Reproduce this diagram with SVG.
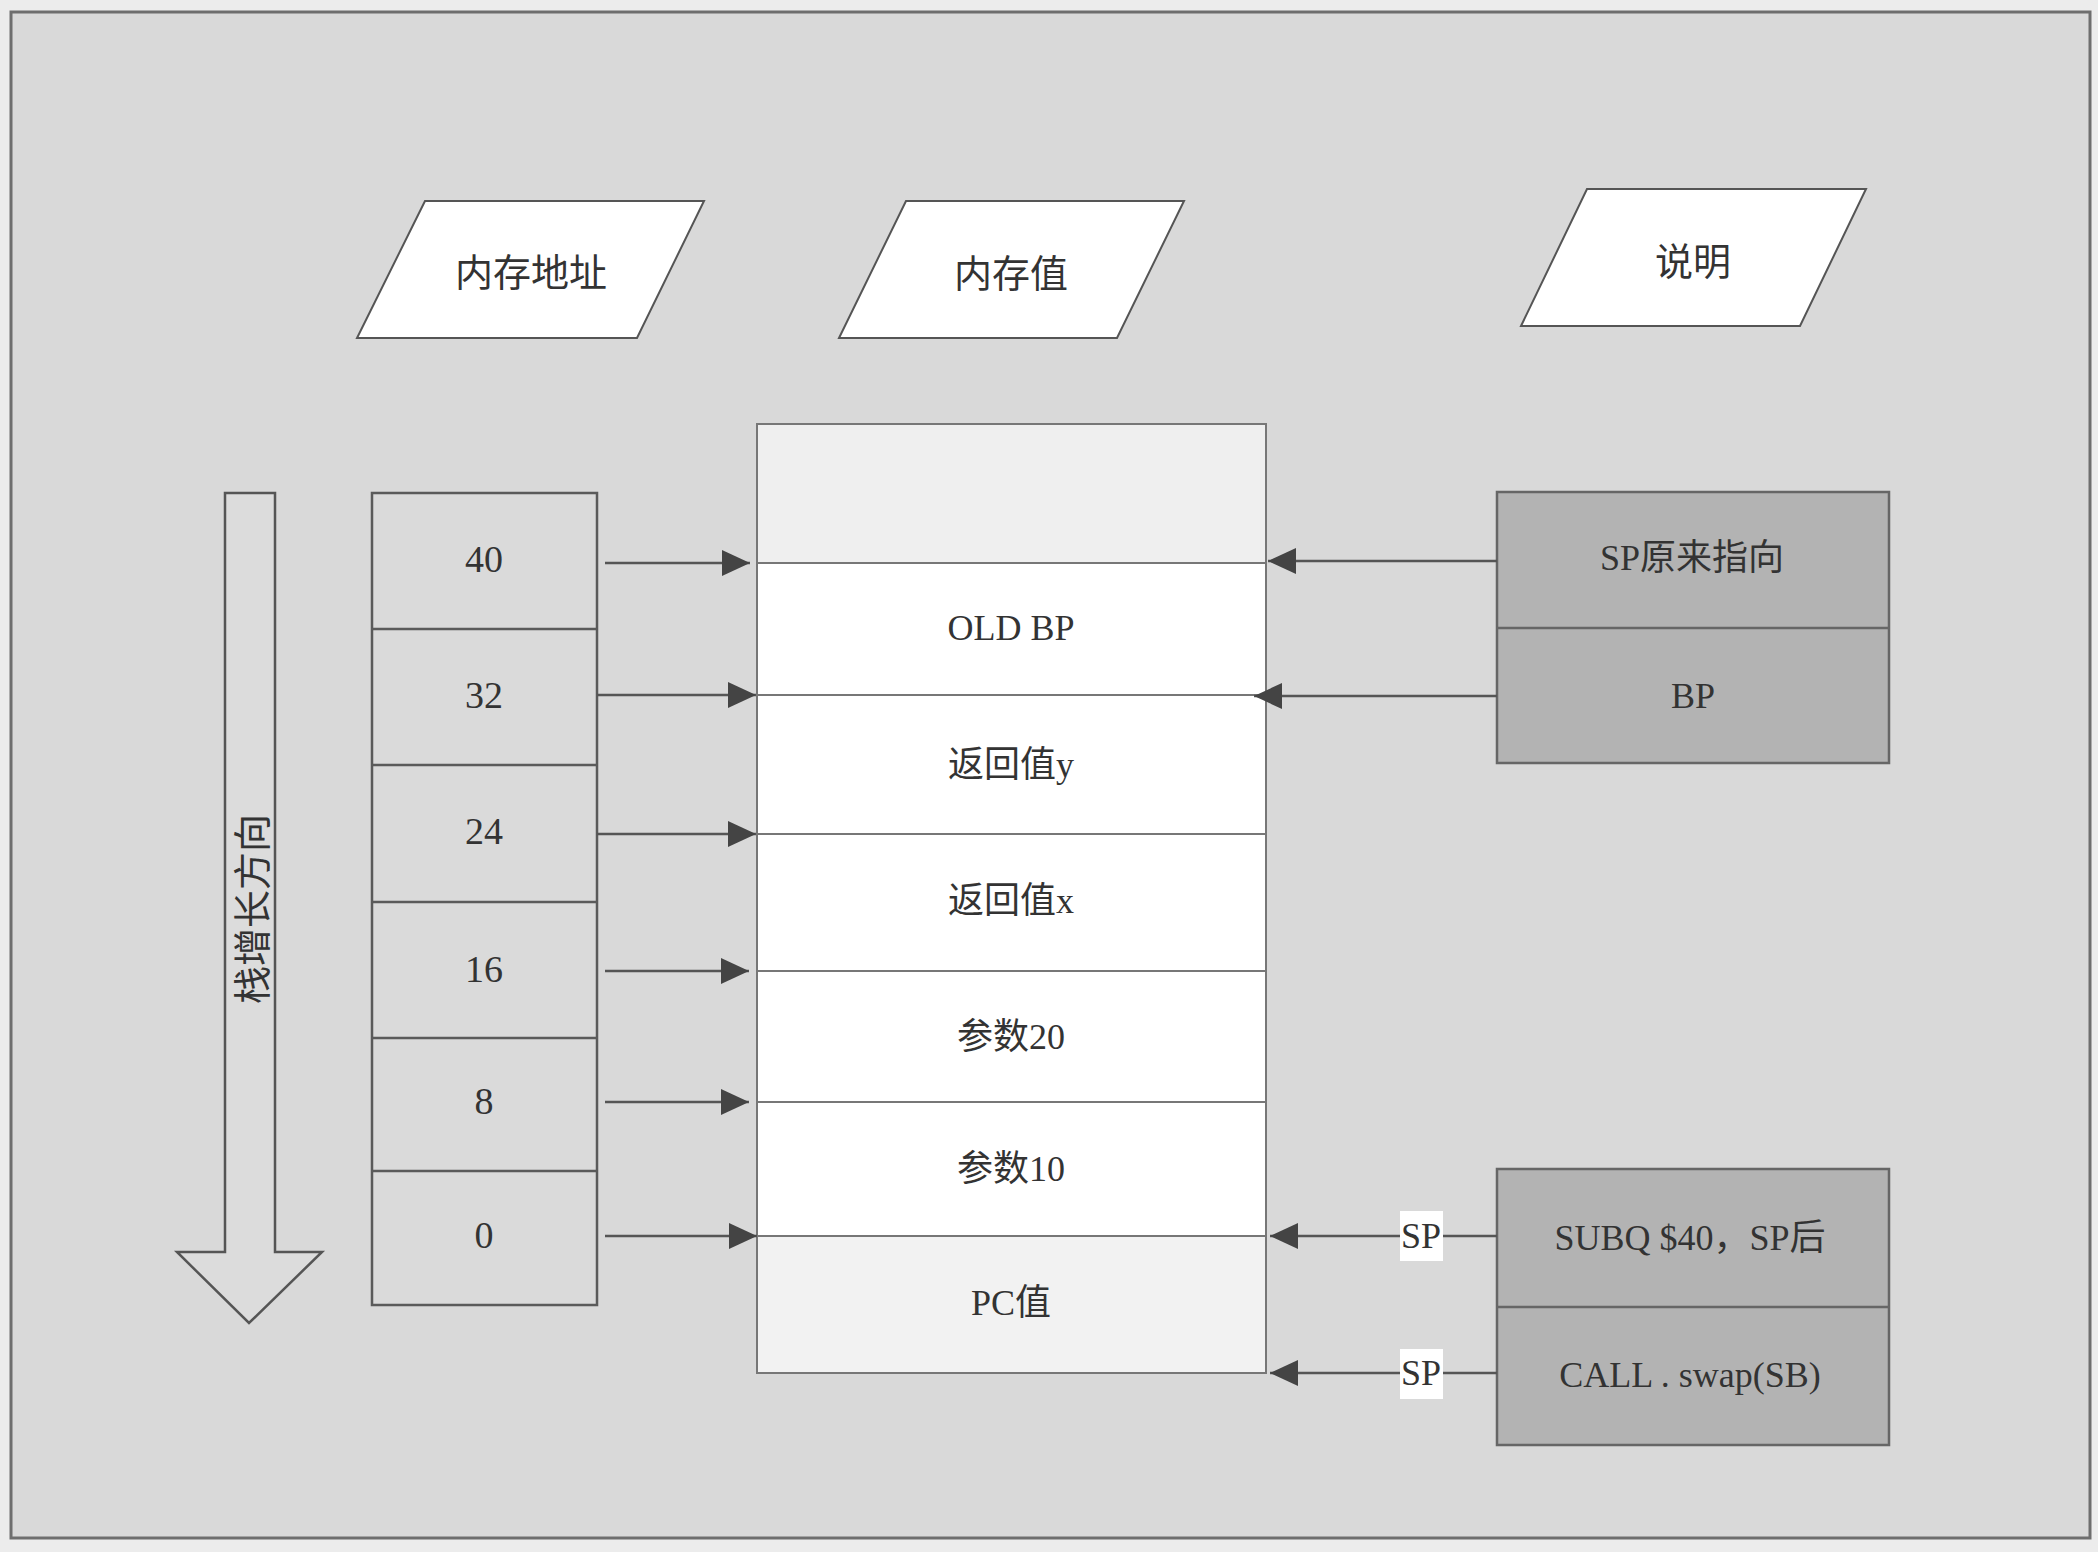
<svg xmlns="http://www.w3.org/2000/svg" width="2098" height="1552" viewBox="0 0 2098 1552">
<style>
.t{font-family:"Liberation Serif","Noto Sans CJK SC",serif;fill:#333;text-anchor:middle;dominant-baseline:central}
.h{font-family:"Noto Sans CJK SC","Liberation Sans",sans-serif;font-size:38px;fill:#333;text-anchor:middle;dominant-baseline:central}
.c{stroke:#555;stroke-width:2.5;fill:none}
.cell{stroke:#5a5a5a;stroke-width:2.5}
.mem{stroke:#777;stroke-width:2}
.dark{fill:#b3b3b3;stroke:#666;stroke-width:2.5}
</style>
<defs>
<marker id="ah" markerUnits="userSpaceOnUse" markerWidth="28" markerHeight="26" refX="28" refY="13" orient="auto">
<path d="M0,0 L28,13 L0,26 z" fill="#444"/>
</marker>
</defs>
<rect x="0" y="0" width="2098" height="1552" fill="#ececec"/>
<rect x="11" y="12" width="2079" height="1526" fill="#d9d9d9" stroke="#6e6e6e" stroke-width="3"/>

<g id="hdr-addr">
<polygon points="425,201 704,201 637,338 357,338" fill="#fff" stroke="#555" stroke-width="2"/>
<text class="h" x="531" y="269">内存地址</text>
</g>
<g id="hdr-val">
<polygon points="906,201 1184,201 1117,338 839,338" fill="#fff" stroke="#555" stroke-width="2"/>
<text class="h" x="1011" y="270">内存值</text>
</g>
<g id="hdr-desc">
<polygon points="1587,189 1866,189 1800,326 1521,326" fill="#fff" stroke="#555" stroke-width="2"/>
<text class="h" x="1693" y="258">说明</text>
</g>

<g id="dir-arrow">
<polygon points="225,493 275,493 275,1252 322,1252 249,1323 177,1252 225,1252" fill="#dcdcdc" stroke="#555" stroke-width="2.5"/>
<text class="h" x="249" y="909" transform="rotate(-90 249 909)">栈增长方向</text>
</g>

<g id="addr-stack">
<rect x="372" y="493" width="225" height="812" fill="#dadada" class="cell"/>
<line class="cell" x1="372" y1="629" x2="597" y2="629"/>
<line class="cell" x1="372" y1="765" x2="597" y2="765"/>
<line class="cell" x1="372" y1="902" x2="597" y2="902"/>
<line class="cell" x1="372" y1="1038" x2="597" y2="1038"/>
<line class="cell" x1="372" y1="1171" x2="597" y2="1171"/>
<text class="t" font-size="38" x="484" y="559">40</text>
<text class="t" font-size="38" x="484" y="695">32</text>
<text class="t" font-size="38" x="484" y="831">24</text>
<text class="t" font-size="38" x="484" y="969">16</text>
<text class="t" font-size="38" x="484" y="1101">8</text>
<text class="t" font-size="38" x="484" y="1235">0</text>
</g>

<g id="mem-stack">
<rect x="757" y="424" width="509" height="139" fill="#efefef"/>
<rect x="757" y="563" width="509" height="673" fill="#ffffff"/>
<rect x="757" y="1236" width="509" height="137" fill="#f2f2f2"/>
<rect x="757" y="424" width="509" height="949" fill="none" class="mem"/>
<line class="mem" x1="757" y1="563" x2="1266" y2="563"/>
<line class="mem" x1="757" y1="695" x2="1266" y2="695"/>
<line class="mem" x1="757" y1="834" x2="1266" y2="834"/>
<line class="mem" x1="757" y1="971" x2="1266" y2="971"/>
<line class="mem" x1="757" y1="1102" x2="1266" y2="1102"/>
<line class="mem" x1="757" y1="1236" x2="1266" y2="1236"/>
<text class="t" font-size="36" x="1011" y="628">OLD BP</text>
<text class="t" font-size="36" x="1011" y="765">返回值y</text>
<text class="t" font-size="36" x="1011" y="901">返回值x</text>
<text class="t" font-size="36" x="1011" y="1037">参数20</text>
<text class="t" font-size="36" x="1011" y="1169">参数10</text>
<text class="t" font-size="36" x="1011" y="1303">PC值</text>
</g>

<g id="desc-top">
<rect x="1497" y="492" width="392" height="271" class="dark"/>
<line x1="1497" y1="628" x2="1889" y2="628" stroke="#666" stroke-width="2.5"/>
<text class="t" font-size="36" x="1692" y="558">SP原来指向</text>
<text class="t" font-size="36" x="1693" y="696">BP</text>
</g>

<g id="desc-bottom">
<rect x="1497" y="1169" width="392" height="276" class="dark"/>
<line x1="1497" y1="1307" x2="1889" y2="1307" stroke="#666" stroke-width="2.5"/>
<text class="t" font-size="36" x="1690" y="1238">SUBQ $40，SP后</text>
<text class="t" font-size="36" x="1690" y="1375">CALL . swap(SB)</text>
</g>

<g id="connectors">
<line class="c" x1="605" y1="563" x2="750" y2="563" marker-end="url(#ah)"/>
<line class="c" x1="597" y1="695" x2="756" y2="695" marker-end="url(#ah)"/>
<line class="c" x1="597" y1="834" x2="756" y2="834" marker-end="url(#ah)"/>
<line class="c" x1="605" y1="971" x2="749" y2="971" marker-end="url(#ah)"/>
<line class="c" x1="605" y1="1102" x2="749" y2="1102" marker-end="url(#ah)"/>
<line class="c" x1="605" y1="1236" x2="757" y2="1236" marker-end="url(#ah)"/>
<line class="c" x1="1497" y1="561" x2="1268" y2="561" marker-end="url(#ah)"/>
<line class="c" x1="1497" y1="696" x2="1254" y2="696" marker-end="url(#ah)"/>
<line class="c" x1="1497" y1="1236" x2="1270" y2="1236" marker-end="url(#ah)"/>
<line class="c" x1="1497" y1="1373" x2="1270" y2="1373" marker-end="url(#ah)"/>
<rect x="1400" y="1211" width="43" height="50" fill="#fff"/>
<text class="t" font-size="36" x="1421" y="1236">SP</text>
<rect x="1400" y="1349" width="43" height="50" fill="#fff"/>
<text class="t" font-size="36" x="1421" y="1373">SP</text>
</g>
</svg>
